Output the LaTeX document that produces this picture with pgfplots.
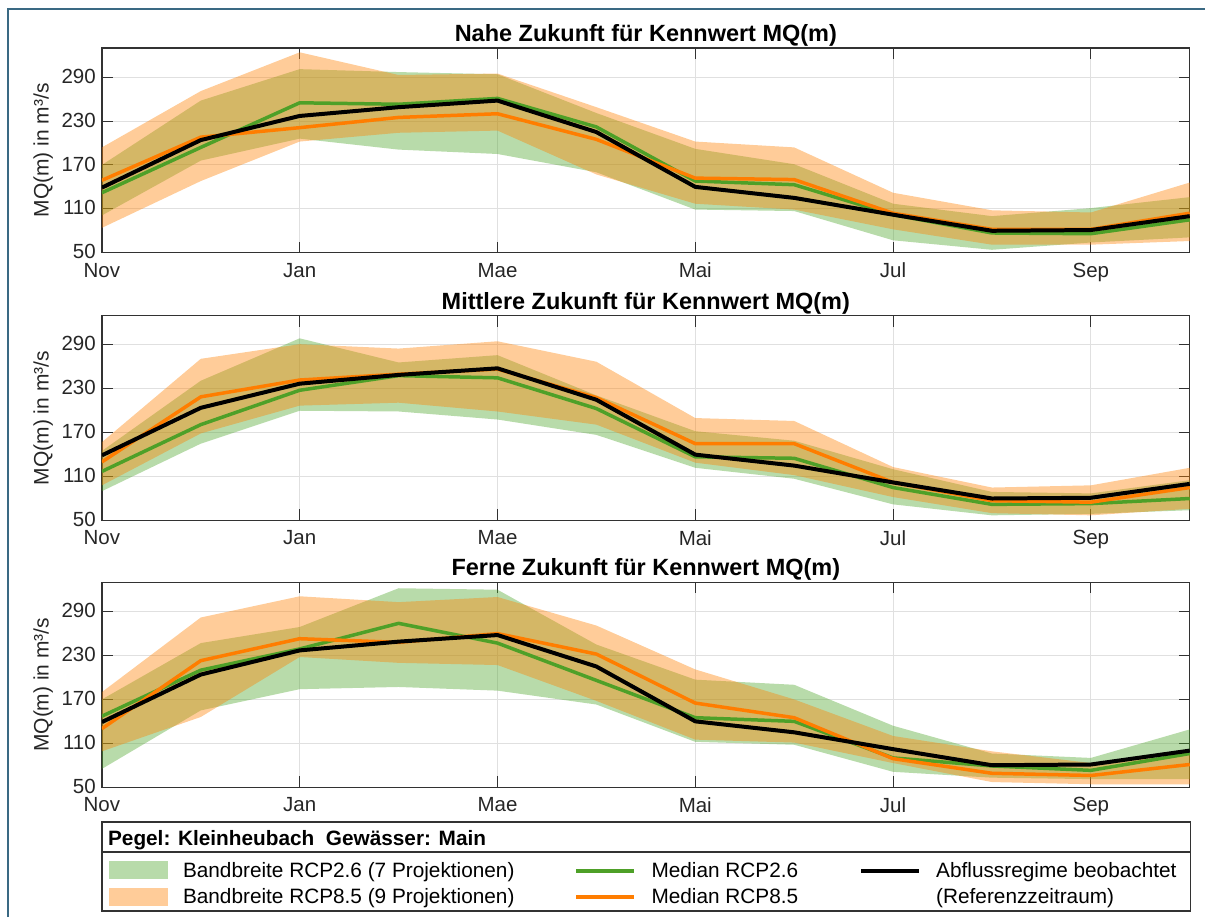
\documentclass[border=0pt]{standalone}
\usepackage{fontspec}
\setmainfont{Liberation Sans}
\usepackage{pgfplots}
\pgfplotsset{compat=1.18}
\usepackage{pgfplotstable}
\usepgfplotslibrary{fillbetween}

\definecolor{gband}{RGB}{77,166,42}
\definecolor{oband}{RGB}{255,128,0}
\definecolor{gline}{RGB}{78,160,40}
\definecolor{oline}{RGB}{255,125,0}
\definecolor{framec}{RGB}{58,105,131}
\definecolor{axc}{RGB}{50,50,50}

% x: 0=Nov ... 11=Okt
\pgfplotstableread{
x obs gmed omed glo ghi olo ohi
0 139 132 149 101 170 84 194
1 204 194 208 176 258 148 271
2 237 255 221 206 301 202 324
3 249 253 235 191 297 214 293
4 258 261 240 185 294 217 295
5 215 222 205 160 241 157 249
6 140 148 152 109 192 117 202
7 125 143 150 107 171 109 194
8 102 102 104 67 117 82 132
9 80 77 82 54 100 61 108
10 81 76 82 64 111 61 105
11 100 95 104 71 126 66 146
}\tabA

\pgfplotstableread{
x obs gmed omed glo ghi olo ohi
0 139 117 130 90 145 98 157
1 204 181 219 155 241 169 271
2 237 228 242 200 299 207 291
3 249 248 250 199 266 211 285
4 258 245 257 188 276 199 295
5 215 203 218 167 221 181 267
6 140 137 155 122 172 129 190
7 125 135 155 107 159 112 186
8 102 95 102 72 120 82 123
9 80 72 77 57 89 60 95
10 81 73 75 59 87 57 98
11 100 80 95 64 105 66 122
}\tabB

\pgfplotstableread{
x obs gmed omed glo ghi olo ohi
0 139 147 130 75 170 99 180
1 204 210 223 155 247 146 282
2 237 239 253 184 269 228 311
3 249 274 248 187 322 220 303
4 258 247 260 182 320 217 310
5 215 196 232 163 245 168 271
6 140 145 165 112 197 115 211
7 125 140 145 108 190 111 170
8 102 90 89 71 134 83 120
9 80 79 69 63 96 57 99
10 81 73 66 61 90 54 83
11 100 96 81 61 129 54 94
}\tabC

\pgfplotsset{
  panel/.style={
    scale only axis, width=1089bp, height=205bp, anchor=north west,
    xmin=0, xmax=11, ymin=50, ymax=330,
    xtick={0,2,4,6,8,10}, xticklabels={Nov,Jan,Mae,Mai,Jul,Sep},
    ytick={50,110,170,230,290},
    grid=major, major grid style={draw=black!12, line width=1bp},
    tick align=inside, major tick length=11bp,
    tick style={draw=axc, line width=1bp},
    axis line style={draw=axc, line width=1.3bp},
    tick label style={font=\fontsize{20.5bp}{24bp}\selectfont, text=black!85, inner sep=0pt},
    /pgf/number format/assume math mode=true,
    /pgf/number format/fixed,
    xticklabel style={anchor=north, yshift=-10bp},
    yticklabel style={anchor=east, xshift=-6bp, yshift=1bp},
    ylabel={MQ(m) in m³/s},
    ylabel style={at={(axis description cs:-0.054,0.5)}, anchor=center,
      font=\fontsize{21bp}{25bp}\selectfont, text=black!85},
    title style={at={(0.5,1)}, anchor=base, yshift=0.6bp,
      font=\bfseries\fontsize{23.5bp}{28bp}\selectfont},
  },
}

\newcommand{\panelplots}[1]{%
  \addplot[name path=ghi, draw=none, forget plot] table[x=x,y=ghi]{#1};
  \addplot[name path=glo, draw=none, forget plot] table[x=x,y=glo]{#1};
  \addplot[gband, fill opacity=0.4, draw=none] fill between[of=ghi and glo];
  \addplot[name path=ohi, draw=none, forget plot] table[x=x,y=ohi]{#1};
  \addplot[name path=olo, draw=none, forget plot] table[x=x,y=olo]{#1};
  \addplot[oband, fill opacity=0.4, draw=none] fill between[of=ohi and olo];
  \addplot[gline, line width=3.5bp, line join=round] table[x=x,y=gmed]{#1};
  \addplot[oline, line width=3.5bp, line join=round] table[x=x,y=omed]{#1};
  \addplot[black, line width=4bp, line join=round] table[x=x,y=obs]{#1};
}

\begin{document}
\begin{tikzpicture}
\path (0,0) rectangle (1206bp,918bp);
\draw[framec, line width=2.5bp] (8bp,0bp) -- (8bp,909bp) -- (1206bp,909bp);

\begin{axis}[panel, at={(102bp,870bp)}, title={Nahe Zukunft für Kennwert MQ(m)}]
\panelplots{\tabA}
\end{axis}

\begin{axis}[panel, at={(102bp,602bp)}, title={Mittlere Zukunft für Kennwert MQ(m)}]
\panelplots{\tabB}
\end{axis}

\begin{axis}[panel, at={(102bp,335bp)}, title={Ferne Zukunft für Kennwert MQ(m)}]
\panelplots{\tabC}
\end{axis}

% legend box
\draw[axc, line width=1.3bp] (102bp,6bp) rectangle (1192bp,95bp);
\draw[axc, line width=1.3bp] (102bp,65bp) -- (1192bp,65bp);
\node[anchor=base west, inner sep=0pt, font=\bfseries\fontsize{20.8bp}{25bp}\selectfont]
  at (108bp,72bp) {Pegel: Kleinheubach\ \ Gewässer: Main};
\fill[gband, fill opacity=0.4] (109bp,38bp) rectangle (168bp,56bp);
\fill[oband, fill opacity=0.4] (109bp,11bp) rectangle (168bp,29bp);
\begin{scope}[every node/.style={anchor=base west, inner sep=0pt, font=\fontsize{20.8bp}{25bp}\selectfont}]
\node at (183bp,40bp) {Bandbreite RCP2.6 (7 Projektionen)};
\node at (183bp,14bp) {Bandbreite RCP8.5 (9 Projektionen)};
\node at (652bp,40bp) {Median RCP2.6};
\node at (652bp,14bp) {Median RCP8.5};
\node at (937bp,40bp) {Abflussregime beobachtet};
\node at (937bp,14bp) {(Referenzzeitraum)};
\end{scope}
\draw[gline, line width=3.5bp] (577bp,46bp) -- (635bp,46bp);
\draw[oline, line width=3.5bp] (577bp,20bp) -- (635bp,20bp);
\draw[black, line width=4bp] (862bp,46bp) -- (920bp,46bp);
\end{tikzpicture}
\end{document}
